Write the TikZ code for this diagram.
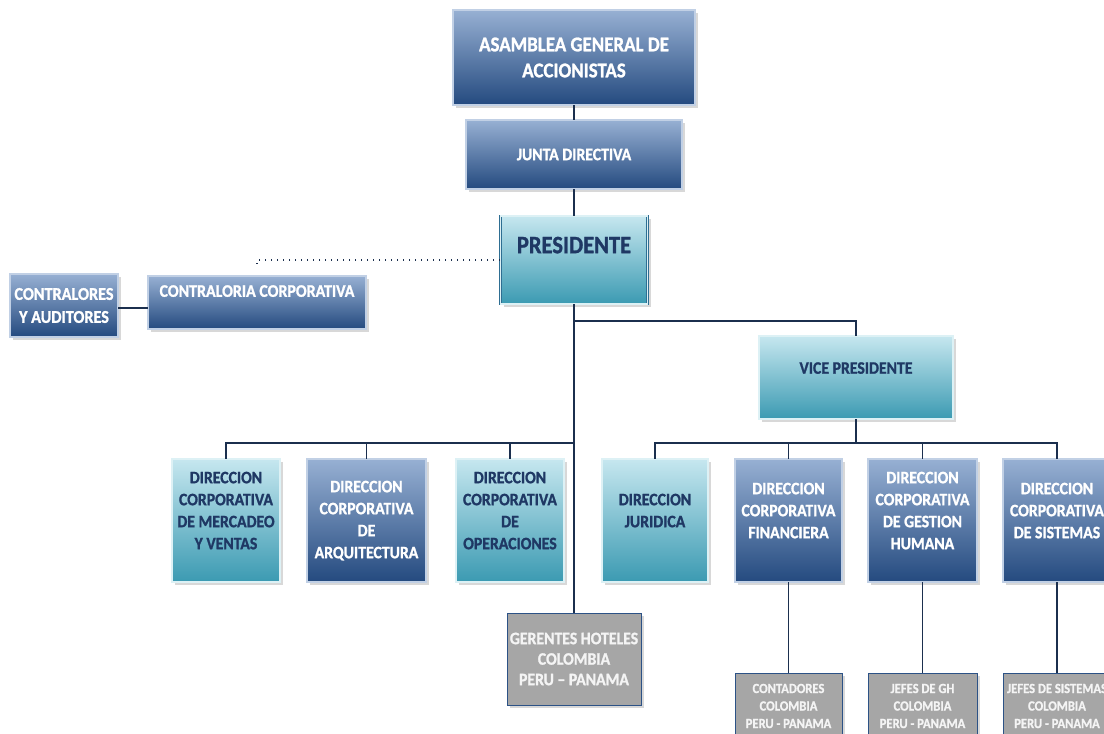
\documentclass[tikz,border=0pt]{standalone}
\usepackage{fontspec}
\setmainfont{Carlito}[FakeStretch=0.9, BoldFeatures={FakeBold=1.2}]
\usetikzlibrary{shadows}
\definecolor{navy}{HTML}{1F3864}
\definecolor{linkcol}{HTML}{1B2F4E}
\definecolor{dktop}{HTML}{97B0D3}
\definecolor{dkbot}{HTML}{244A7F}
\definecolor{dkline}{HTML}{2C5286}
\definecolor{lttop}{HTML}{C6E7EF}
\definecolor{ltbot}{HTML}{3B9AB2}
\definecolor{ltline}{HTML}{2E6E92}
\definecolor{grayfill}{HTML}{A6A6A6}
\definecolor{graytext}{HTML}{F4F4F4}
\begin{document}
\begin{tikzpicture}[x=1pt, y=-1pt,
    box/.style={rectangle, align=center, inner sep=2pt,
      font=\bfseries\fontsize{17.5}{22}\selectfont,
      drop shadow={shadow xshift=3pt, shadow yshift=-3pt, fill=black!30}},
    darkbox/.style={box, top color=dktop, bottom color=dkbot, draw=dkline,
      double=dktop!60, double distance=1.2pt, line width=0.6pt, text=white},
    lightbox/.style={box, top color=lttop, bottom color=ltbot, draw=ltline,
      double=lttop!60, double distance=1.2pt, line width=0.6pt, text=navy},
    graybox/.style={box, fill=grayfill, draw=dkline, line width=0.8pt, text=graytext},
    dirbox/.style={minimum width=#1, minimum height=123pt, text depth=20pt},
    link/.style={draw=linkcol, line width=1.8pt}]
  \useasboundingbox (0,0) rectangle (1104,734);
  \clip (0,0) rectangle (1104,734);

  % top of the chart
  \node[darkbox, minimum width=242pt, minimum height=95pt,
    font=\bfseries\fontsize{21}{26}\selectfont] (asamblea) at (574,57.5) {ASAMBLEA GENERAL DE\\ACCIONISTAS};
  \node[darkbox, minimum width=216pt, minimum height=69pt,
    font=\bfseries\fontsize{17.5}{21}\selectfont] (junta) at (574,154.5) {JUNTA DIRECTIVA};
  \node[lightbox, minimum width=147pt, minimum height=88pt, text depth=30pt,
    font=\bfseries\fontsize{25}{30}\selectfont] (pres) at (574,260) {PRESIDENTE};
  \node[darkbox, minimum width=218pt, minimum height=53pt, text depth=23pt,
    font=\bfseries\fontsize{17.7}{21}\selectfont] (contraloria) at (257,302.5) {CONTRALORIA CORPORATIVA};
  \node[darkbox, minimum width=108pt, minimum height=63pt,
    font=\bfseries\fontsize{18}{23}\selectfont] (contralores) at (64,305.5) {CONTRALORES\\Y AUDITORES};
  \node[lightbox, minimum width=194pt, minimum height=83pt, text depth=19pt,
    font=\bfseries\fontsize{17.5}{22}\selectfont] (vp) at (856,377.5) {VICE PRESIDENTE};

  % direcciones
  \node[lightbox, dirbox=108pt] (mercadeo) at (226,520.5) {DIRECCION\\CORPORATIVA\\DE MERCADEO\\Y VENTAS};
  \node[darkbox, dirbox=119pt, text depth=2pt] (arquit) at (366.5,520.5) {DIRECCION\\CORPORATIVA\\DE\\ARQUITECTURA};
  \node[lightbox, dirbox=108pt] (operac) at (510,520.5) {DIRECCION\\CORPORATIVA\\DE\\OPERACIONES};
  \node[lightbox, dirbox=106pt] (juridica) at (655,520.5) {DIRECCION\\JURIDICA};
  \node[darkbox, dirbox=107pt] (financiera) at (788.5,520.5) {DIRECCION\\CORPORATIVA\\FINANCIERA};
  \node[darkbox, dirbox=109pt] (gestion) at (922.5,520.5) {DIRECCION\\CORPORATIVA\\DE GESTION\\HUMANA};
  \node[darkbox, dirbox=108pt] (sistemas) at (1057,520.5) {DIRECCION\\CORPORATIVA\\DE SISTEMAS};

  % gray boxes
  \node[graybox, minimum width=134pt, minimum height=92pt,
    font=\bfseries\fontsize{17.5}{20.5}\selectfont] (gerentes) at (574,659) {GERENTES HOTELES\\COLOMBIA\\PERU -- PANAMA};
  \node[graybox, minimum width=107pt, minimum height=66pt,
    font=\bfseries\fontsize{14}{17.5}\selectfont] (contadores) at (788.5,706) {CONTADORES\\COLOMBIA\\PERU - PANAMA};
  \node[graybox, minimum width=109pt, minimum height=66pt,
    font=\bfseries\fontsize{14}{17.5}\selectfont] (jefesgh) at (922.5,706) {JEFES DE GH\\COLOMBIA\\PERU - PANAMA};
  \node[graybox, minimum width=108pt, minimum height=66pt,
    font=\bfseries\fontsize{14}{17.5}\selectfont] (jefessis) at (1057,706) {JEFES DE SISTEMAS\\COLOMBIA\\PERU - PANAMA};

  % connectors
  \draw[link] (asamblea) -- (junta);
  \draw[link] (junta) -- (pres);
  \draw[link] (pres.south) -- (gerentes.north);
  \draw[link] (pres.south |- 0,321) -| (vp.north);
  \draw[link] (mercadeo.north) |- (pres.south |- 0,443);
  \foreach \n in {arquit, operac}
    \draw[link] (\n.north) -- (\n.north |- 0,443);
  \draw[link] (vp.south) -- (vp.south |- 0,443);
  \draw[link] (juridica.north) |- (sistemas.north |- 0,443) -- (sistemas.north);
  \foreach \n in {financiera, gestion}
    \draw[link] (\n.north) -- (\n.north |- 0,443);
  \foreach \a/\b in {financiera/contadores, gestion/jefesgh, sistemas/jefessis}
    \draw[link] (\a) -- (\b);
  \draw[link] (contralores.east |- 0,308) -- (contraloria.west |- 0,308);
  \draw[linkcol, line width=1.2pt, dash pattern=on 1pt off 5pt]
    (pres.west) -- (contraloria.north |- pres.west) -- ++(0,6);
\end{tikzpicture}
\end{document}
